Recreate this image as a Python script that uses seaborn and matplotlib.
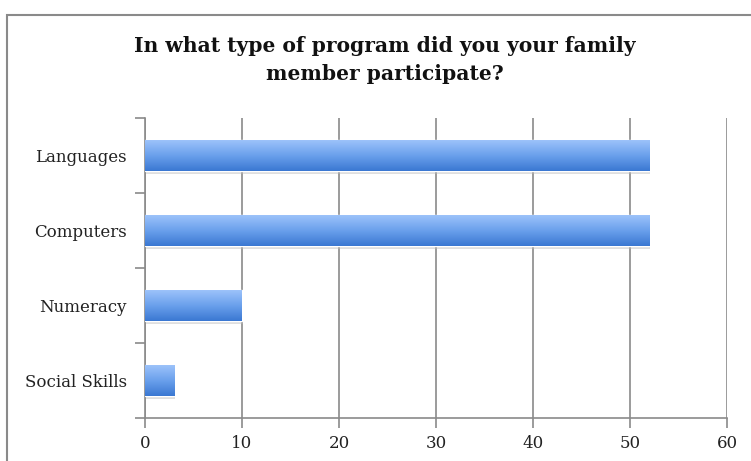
import numpy as np
import pandas as pd
import seaborn as sns
import matplotlib.pyplot as plt
from matplotlib.patches import Rectangle

programs = ['Languages', 'Computers', 'Numeracy', 'Social Skills']
counts = [52, 52, 10, 3]
xticks = [0, 10, 20, 30, 40, 50, 60]

df = pd.DataFrame({'program': programs, 'count': counts})

sns.set_style('white')
plt.rcParams['font.family'] = ['DejaVu Serif', 'Liberation Serif']

fig = plt.figure(figsize=(7.51, 4.61), dpi=100)
# outer chart frame
fig.patches.append(Rectangle((7/751, -0.05), 1.0, 1 - 15/461 + 0.05, transform=fig.transFigure,
                             fill=False, edgecolor='#8a8a8a', linewidth=1.5))
ax = fig.add_axes([145/751, 1 - 418/461, 582/751, 300/461])

sns.barplot(data=df, x='count', y='program', orient='h', color='#5b93e3',
            width=0.41, ax=ax, zorder=3)

# gradient fill + soft shadow on bars
grad = np.linspace(0, 1, 64).reshape(-1, 1)
cmap = sns.blend_palette(['#9cc2fa', '#6aa0ec', '#3b78d2'], as_cmap=True)
for p in ax.patches:
    x0, y0 = p.get_x(), p.get_y()
    w, h = p.get_width(), p.get_height()
    ax.add_patch(Rectangle((x0 + 0.1, y0 + 0.04), w, h, color='#b8b8b8', alpha=0.45,
                           zorder=2, linewidth=0))
    im = ax.imshow(grad, extent=[x0, x0 + w, y0 + h, y0], aspect='auto', cmap=cmap,
                   zorder=4, origin='upper')
    im.set_clip_path(p)

ax.set_xlim(0, 60)
ax.set_ylim(3.5, -0.5)
ax.set_xticks(xticks)
ax.set_xticklabels([str(v) for v in xticks])
ax.xaxis.grid(True, color='#8a8a8a', linewidth=1.2, zorder=1)
ax.yaxis.grid(False)
ax.set_xlabel('')
ax.set_ylabel('')

ax.set_yticks([-0.5, 0.5, 1.5, 2.5, 3.5], minor=True)
ax.tick_params(axis='y', which='major', left=True, length=0, pad=13, labelsize=12,
               labelcolor='#222222')
ax.tick_params(axis='y', which='minor', left=True, length=7, width=1.2, color='#8a8a8a',
               direction='out')
ax.tick_params(axis='x', bottom=True, length=7, width=1.2, color='#8a8a8a', direction='out',
               labelsize=12, labelcolor='#222222', pad=5)

for s in ['top', 'right']:
    ax.spines[s].set_visible(False)
for s in ['left', 'bottom']:
    ax.spines[s].set_color('#8a8a8a')
    ax.spines[s].set_linewidth(1.2)

fig.text(385/751, 1 - 36/461, 'In what type of program did you your family\nmember participate?',
         ha='center', va='top', fontsize=14.6, fontweight='bold', linespacing=1.5, color='#111111')

fig.savefig('out.png', dpi=100)
